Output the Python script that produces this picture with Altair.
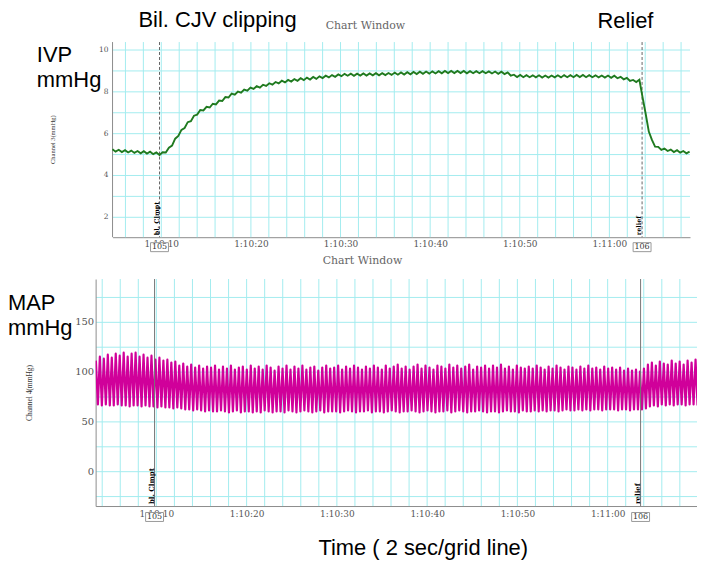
import altair as alt
import pandas as pd

# ---------------- data ----------------
# IVP (Channel 3, mmHg), one sample every 0.35 s starting 1:10:04.55
IVP_START = 4.55
IVP_STEP = 0.35
IVP = [
    5.25, 5.14, 5.23, 5.12, 5.21, 5.10, 5.19, 5.08, 5.17, 5.06,
    5.16, 5.05, 5.14, 5.02, 5.10, 4.98, 5.11, 5.10, 5.33, 5.43,
    5.76, 5.89, 6.18, 6.27, 6.55, 6.60, 6.86, 6.91, 7.13, 7.11,
    7.28, 7.25, 7.43, 7.40, 7.58, 7.56, 7.75, 7.73, 7.91, 7.86,
    8.01, 7.96, 8.11, 8.06, 8.20, 8.14, 8.27, 8.20, 8.34, 8.28,
    8.41, 8.34, 8.47, 8.40, 8.53, 8.45, 8.57, 8.49, 8.61, 8.53,
    8.65, 8.56, 8.68, 8.59, 8.71, 8.62, 8.74, 8.66, 8.77, 8.69,
    8.80, 8.72, 8.83, 8.75, 8.86, 8.77, 8.87, 8.77, 8.87, 8.78,
    8.88, 8.78, 8.88, 8.79, 8.89, 8.79, 8.89, 8.80, 8.90, 8.81,
    8.92, 8.82, 8.93, 8.83, 8.94, 8.84, 8.95, 8.85, 8.96, 8.86,
    8.97, 8.87, 8.98, 8.88, 8.99, 8.89, 9.00, 8.90, 9.00, 8.90,
    9.00, 8.90, 9.00, 8.89, 8.99, 8.89, 8.99, 8.89, 8.99, 8.89,
    8.98, 8.88, 8.97, 8.86, 8.96, 8.85, 8.93, 8.77, 8.82, 8.71,
    8.81, 8.70, 8.80, 8.70, 8.79, 8.69, 8.79, 8.68, 8.78, 8.68,
    8.78, 8.69, 8.79, 8.69, 8.80, 8.70, 8.80, 8.70, 8.81, 8.71,
    8.81, 8.70, 8.80, 8.70, 8.79, 8.69, 8.78, 8.68, 8.78, 8.67,
    8.77, 8.65, 8.72, 8.60, 8.67, 8.52, 8.57, 8.47, 8.58, 7.75,
    6.95, 6.10, 5.70, 5.38, 5.37, 5.22, 5.29, 5.17, 5.24, 5.12,
    5.21, 5.09, 5.17, 5.06, 5.14,
]

# MAP (Channel 4, mmHg): systolic peak and diastolic trough of each beat,
# one beat every 0.44 s starting 1:10:03.3
BEAT_START = 3.3
BEAT_PERIOD = 0.44
SYS = [
    111, 115, 113, 117, 114, 118, 116, 119, 115, 118,
    119, 115, 117, 114, 116, 112, 114, 111, 112, 109,
    110, 106, 108, 105, 107, 104, 106, 103, 105, 104,
    106, 102, 105, 103, 106, 102, 104, 105, 102, 106,
    103, 105, 102, 106, 104, 101, 105, 103, 106, 102,
    105, 103, 106, 102, 104, 105, 101, 104, 106, 103,
    104, 106, 102, 105, 103, 106, 104, 102, 105, 103,
    106, 104, 102, 106, 103, 105, 107, 103, 105, 102,
    105, 107, 103, 106, 104, 102, 106, 105, 103, 107,
    104, 106, 103, 105, 107, 102, 105, 104, 106, 103,
    106, 104, 107, 103, 105, 102, 106, 104, 103, 105,
    103, 106, 104, 102, 105, 103, 106, 104, 102, 105,
    104, 102, 105, 103, 106, 103, 104, 102, 105, 103,
    104, 102, 104, 101, 103, 101, 102, 100, 103, 107,
    109, 106, 110, 108, 107, 111, 108, 110, 107, 111,
    109, 112,
]
DIA = [
    67, 66, 67, 66, 66, 67, 66, 66, 65, 66,
    66, 65, 66, 65, 65, 64, 65, 64, 64, 63,
    64, 63, 62, 62, 61, 62, 61, 60, 61, 60,
    60, 61, 60, 59, 60, 61, 59, 60, 60, 59,
    60, 59, 61, 60, 59, 60, 60, 59, 61, 60,
    59, 60, 61, 60, 59, 60, 61, 59, 60, 60,
    60, 59, 60, 61, 60, 59, 60, 60, 61, 59,
    60, 60, 59, 60, 61, 60, 59, 60, 60, 61,
    60, 59, 60, 61, 60, 59, 60, 60, 61, 59,
    60, 61, 60, 59, 60, 60, 61, 60, 59, 60,
    60, 59, 60, 61, 60, 60, 59, 61, 60, 60,
    61, 60, 61, 60, 61, 61, 60, 61, 62, 61,
    61, 62, 61, 62, 61, 62, 62, 61, 62, 62,
    62, 61, 62, 62, 61, 62, 62, 62, 63, 65,
    66, 65, 67, 66, 67, 66, 67, 67, 66, 67,
    67, 66,
]

# event markers (seconds after 1:10:00)
MARK_T = [9.8, 63.65]
MARK_TEXT = ["bl. Clmpt", "relief"]
MARK_NUM = ["105", "106"]

# axes (seconds after 1:10:00)
TOP_X_DOMAIN = [4.56, 69.0]
BOT_X_DOMAIN = [3.27, 69.9]
X_LABEL_TICKS = [10, 20, 30, 40, 50, 60]
TOP_X_GRID = list(range(6, 69, 2))
BOT_X_GRID = list(range(4, 69, 2))
TOP_Y_DOMAIN = [1.048, 10.381]
TOP_Y_GRID = [2, 3, 4, 5, 6, 7, 8, 9, 10]
TOP_Y_LABELS = [2, 4, 6, 8, 10]
BOT_Y_DOMAIN = [-35, 193]
BOT_Y_TICKS = [-25, 0, 25, 50, 75, 100, 125, 150, 175]

# ---------------- tables ----------------
ivp_df = pd.DataFrame({"t": [IVP_START + IVP_STEP * i for i in range(len(IVP))], "v": IVP})
map_rows = []
for k in range(len(SYS)):
    tk = BEAT_START + BEAT_PERIOD * k
    map_rows.append({"t": tk, "v": SYS[k]})
    map_rows.append({"t": tk + BEAT_PERIOD / 2, "v": DIA[k]})
map_df = pd.DataFrame(map_rows)
marks_df = pd.DataFrame({"t": MARK_T, "label": MARK_TEXT, "num": MARK_NUM})
top_hgrid_df = pd.DataFrame({"v": TOP_Y_GRID})
top_ylab_df = pd.DataFrame({"v": TOP_Y_LABELS, "lab": [str(v) for v in TOP_Y_LABELS]})
top_vgrid_df = pd.DataFrame({"t": TOP_X_GRID})
bot_vgrid_df = pd.DataFrame({"t": BOT_X_GRID})
one = pd.DataFrame({"_": [0]})

GRID = "#a3ecef"
AXIS_COL = "#8c8c8c"
LAB_COL = "#555555"
BOX = "M-1,-0.5H1V0.5H-1Z"

XLAB = ("'1:' + (10 + floor(datum.value / 60)) + ':' + "
        "(datum.value % 60 < 10 ? '0' : '') + (datum.value % 60)")


def x_axis(pad):
    return alt.Axis(values=X_LABEL_TICKS, labelExpr=XLAB, grid=False,
                    ticks=False, domainColor=AXIS_COL, labelFont="DejaVu Serif",
                    labelFontSize=9, labelColor=LAB_COL, labelPadding=pad,
                    labelOverlap=False, labelFlush=False, title=None)


def note(text, x, y, size=22, align="left", font="Liberation Sans", color="black",
         weight="normal", baseline="alphabetic", angle=0):
    return alt.Chart(one).mark_text(text=text, font=font, fontSize=size, align=align,
                                    baseline=baseline, color=color, angle=angle,
                                    fontWeight=weight).encode(
        x=alt.value(x), y=alt.value(y))


W = 604
TOP_H = 196
BOT_H = 228

# ---------------- top panel: IVP ----------------
top_x_scale = alt.Scale(domain=TOP_X_DOMAIN, range=[17, 597], zero=False, nice=False)
top_y_scale = alt.Scale(domain=TOP_Y_DOMAIN, zero=False, nice=False)

top_vgrid = alt.Chart(top_vgrid_df).mark_rule(color=GRID, strokeWidth=1).encode(
    x=alt.X("t:Q", scale=top_x_scale, axis=x_axis(2)))
top_hgrid = alt.Chart(top_hgrid_df).mark_rule(color=GRID, strokeWidth=1).encode(
    y=alt.Y("v:Q", scale=top_y_scale, axis=None),
    x=alt.datum(TOP_X_DOMAIN[0]),
    x2=alt.datum(TOP_X_DOMAIN[1]),
)
top_ydomain = alt.Chart(one).mark_rule(color=AXIS_COL, strokeWidth=1).encode(
    x=alt.datum(TOP_X_DOMAIN[0]))
top_ylabels = alt.Chart(top_ylab_df).mark_text(
    align="right", baseline="middle", font="DejaVu Serif", fontSize=7.5,
    color=LAB_COL).encode(x=alt.value(13), y="v:Q", text="lab:N")
top_line = alt.Chart(ivp_df).mark_line(color="#1f7a1f", strokeWidth=1.9).encode(
    x="t:Q", y="v:Q")
top_mark = alt.Chart(marks_df).mark_rule(color="#666666", strokeDash=[3, 2],
                                         strokeWidth=1).encode(x="t:Q")
top_mark_txt = alt.Chart(marks_df).mark_text(angle=270, align="left", baseline="bottom",
                                             font="DejaVu Serif", fontSize=6.5,
                                             fontWeight="bold", color="black").encode(
    x="t:Q", y=alt.value(TOP_H - 2), text="label:N")
top_box = alt.Chart(marks_df).mark_point(shape=BOX, size=324, filled=True, color="white",
                                         stroke="#999999", strokeWidth=1,
                                         opacity=1).encode(x="t:Q", y=alt.value(206))
top_num = alt.Chart(marks_df).mark_text(font="DejaVu Serif", fontSize=8,
                                        color="#333333").encode(
    x="t:Q", y=alt.value(206), text="num:N")

top = alt.layer(
    top_vgrid, top_hgrid, top_ydomain, top_ylabels, top_mark, top_line,
    top_mark_txt, top_box, top_num,
    note("Channel 3(mmHg)", -43, 98, size=6.5, align="center", font="Liberation Serif",
         color="#333333", baseline="middle", angle=270),
    note("Bil. CJV clipping", 43, -15),
    note("Relief", 504, -14),
    note("Chart Window", 271, -13, size=11, align="center", font="DejaVu Serif",
         color="#666666"),
    note("IVP", -59, 20),
    note("mmHg", -59, 45),
).properties(width=W, height=TOP_H)

# ---------------- bottom panel: MAP ----------------
bot_x_scale = alt.Scale(domain=BOT_X_DOMAIN, zero=False, nice=False)

bot_vgrid = alt.Chart(bot_vgrid_df).mark_rule(color=GRID, strokeWidth=1).encode(
    x=alt.X("t:Q", scale=bot_x_scale, axis=x_axis(4)))
bot_line = alt.Chart(map_df).mark_line(color="#d0009a", strokeWidth=2.2, clip=True,
                                       strokeJoin="round").encode(
    x="t:Q",
    y=alt.Y("v:Q", scale=alt.Scale(domain=BOT_Y_DOMAIN, zero=False, nice=False),
            axis=alt.Axis(values=BOT_Y_TICKS,
                          labelExpr="datum.value % 50 == 0 ? datum.label : ''",
                          grid=True, gridColor=GRID, gridWidth=1, ticks=False,
                          domainColor=AXIS_COL, labelFont="DejaVu Serif",
                          labelFontSize=10, labelColor=LAB_COL, labelPadding=2,
                          labelOverlap=False, labelFlush=False,
                          title="Channel 4(mmHg)", titleFont="Liberation Serif",
                          titleFontSize=7.5, titleFontWeight="normal",
                          titleColor="#333333", titlePadding=41)),
)
bot_mark = alt.Chart(marks_df).mark_rule(color="#777777", strokeWidth=1).encode(x="t:Q")
bot_mark_txt = alt.Chart(marks_df).mark_text(angle=270, align="left", baseline="bottom",
                                             font="DejaVu Serif", fontSize=7,
                                             fontWeight="bold", color="black").encode(
    x="t:Q", y=alt.value(BOT_H - 2), text="label:N")
bot_box = alt.Chart(marks_df).mark_point(shape=BOX, size=324, filled=True, color="white",
                                         stroke="#999999", strokeWidth=1,
                                         opacity=1).encode(x="t:Q", y=alt.value(239))
bot_num = alt.Chart(marks_df).mark_text(font="DejaVu Serif", fontSize=8,
                                        color="#333333").encode(
    x="t:Q", y=alt.value(239), text="num:N")

bottom = alt.layer(
    bot_vgrid, bot_line, bot_mark, bot_mark_txt, bot_box, bot_num,
    note("Chart Window", 268, -15, size=11, align="center", font="DejaVu Serif",
         color="#666666"),
    note("MAP", -88, 31),
    note("mmHg", -88, 56),
    note("Time ( 2 sec/grid line)", 329, 277, align="center"),
).properties(width=W, height=BOT_H)

chart = alt.vconcat(top, bottom, spacing=1).properties(
    padding=0, background="white"
).configure_view(stroke=None)

chart.save("out.html", embed_options={"renderer": "svg", "actions": False})
